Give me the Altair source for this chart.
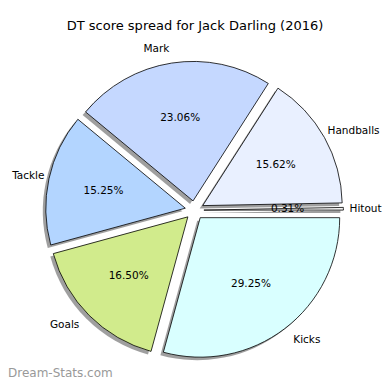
import altair as alt
import pandas as pd

labels = ["Hitout", "Handballs", "Mark", "Tackle", "Goals", "Kicks"]
values = [0.31, 15.62, 23.06, 15.25, 16.50, 29.25]
colors = ["#f4f4f4", "#e9f0ff", "#c5d8ff", "#b3d5ff", "#d1eb8c", "#d9ffff"]
title_text = "DT score spread for Jack Darling (2016)"
watermark = "Dream-Stats.com"

df = pd.DataFrame({
    "label": labels,
    "value": values,
    "color": colors,
    "rank": [len(labels) - 1 - i for i in range(len(labels))],
})

W = 374
CX, CY = 186.5, 202.2
R = 139.5
E = 9.4

base = alt.Chart(df).transform_joinaggregate(
    total="sum(value)"
).transform_window(
    cum="sum(value)", sort=[alt.SortField("rank", order="ascending")], frame=[None, 0]
).transform_calculate(
    t1="PI/2 + 2*PI*datum.cum/datum.total",
).transform_calculate(
    t0="datum.t1 - 2*PI*datum.value/datum.total",
).transform_calculate(
    mid="(datum.t0 + datum.t1)/2",
).transform_calculate(
    cx=f"{CX} + {E}*sin(datum.mid)",
    cy=f"{CY} - {E}*cos(datum.mid)",
    sx=f"{CX} - 3 + {E}*sin(datum.mid)",
    sy=f"{CY} + 3 - {E}*cos(datum.mid)",
    lx0=f"{CX} + {1.1*R + E}*sin(datum.mid)",
    ly=f"{CY} - {1.1*R + E}*cos(datum.mid)",
    px=f"{CX} + {0.6*R + E}*sin(datum.mid)",
    py=f"{CY} - {0.6*R + E}*cos(datum.mid)",
    pct="format(datum.value, '.2f') + '%'",
    side="sin(datum.mid) >= 0 ? 1 : 0",
    nwide="length(replace(datum.label, regexp('[iltf]', 'g'), ''))",
).transform_calculate(
    tw="6.5*datum.nwide + 4*(length(datum.label) - datum.nwide)",
).transform_calculate(
    # keep label text inside the drawing area
    lx=f"datum.side == 1 ? min(datum.lx0, {W - 1} - datum.tw) : max(datum.lx0, datum.tw)",
)

shadow = base.mark_arc(radius=R, fill="#404040", opacity=0.5).encode(
    theta=alt.Theta("t0:Q", scale=None),
    theta2="t1:Q",
    x=alt.X("sx:Q", scale=None),
    y=alt.Y("sy:Q", scale=None),
)

wedges = base.mark_arc(radius=R, stroke="black", strokeWidth=0.8).encode(
    theta=alt.Theta("t0:Q", scale=None),
    theta2="t1:Q",
    x=alt.X("cx:Q", scale=None),
    y=alt.Y("cy:Q", scale=None),
    fill=alt.Fill("color:N", scale=None),
)

font = "DejaVu Sans"
lab_left = base.transform_filter("datum.side == 1").mark_text(
    align="left", baseline="middle", font=font, fontSize=10.5, color="black"
).encode(x=alt.X("lx:Q", scale=None), y=alt.Y("ly:Q", scale=None), text="label:N")
lab_right = base.transform_filter("datum.side == 0").mark_text(
    align="right", baseline="middle", font=font, fontSize=10.5, color="black"
).encode(x=alt.X("lx:Q", scale=None), y=alt.Y("ly:Q", scale=None), text="label:N")
pct = base.mark_text(
    align="center", baseline="middle", font=font, fontSize=10.5, color="black"
).encode(x=alt.X("px:Q", scale=None), y=alt.Y("py:Q", scale=None), text="pct:N")

title = alt.Chart(pd.DataFrame({"t": [title_text]})).mark_text(
    align="center", baseline="middle", font=font, fontSize=13, color="black"
).encode(x=alt.value(187), y=alt.value(17.5), text="t:N")

wm = alt.Chart(pd.DataFrame({"t": [watermark]})).mark_text(
    align="left", baseline="alphabetic", font=font, fontSize=12, color="#999999"
).encode(x=alt.value(0), y=alt.value(369), text="t:N")

chart = alt.layer(shadow, wedges, pct, lab_left, lab_right, title, wm).properties(
    width=W, height=374, padding=0, autosize="none"
).configure_view(stroke=None)

chart.save("out.html", embed_options={"renderer": "svg", "actions": False})
